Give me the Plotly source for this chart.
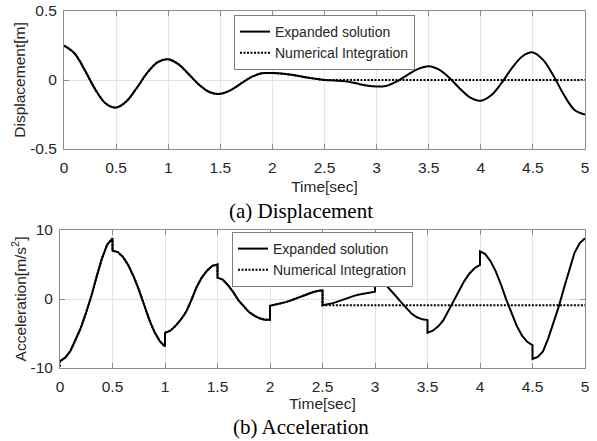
import plotly.graph_objects as go

# ---------------- data ----------------
# displacement, sampled every 0.1 s from 0 to 5 s
time_disp = [round(0.1 * i, 1) for i in range(51)]
disp_expanded = [
    0.25, 0.194, 0.071, -0.068, -0.170, -0.20, -0.154, -0.056, 0.053, 0.129,
    0.15, 0.113, 0.040, -0.037, -0.089, -0.10, -0.073, -0.025, 0.022, 0.049,
    0.05, 0.046, 0.036, 0.022, 0.010, 0.0, -0.004, -0.010, -0.024, -0.040,
    -0.048, -0.041, -0.009, 0.039, 0.081, 0.10, 0.075, 0.015, -0.063, -0.127,
    -0.15, -0.110, -0.021, 0.087, 0.172, 0.20, 0.144, 0.028, -0.111, -0.217,
    -0.25,
]
disp_numerical = disp_expanded[:26] + [0.0] * 25

# acceleration: ten half-second pieces, each sampled every 0.05 s
piece_starts = [0.0, 0.5, 1.0, 1.5, 2.0, 2.5, 3.0, 3.5, 4.0, 4.5]
piece_offsets = [0.0, 0.05, 0.1, 0.15, 0.2, 0.25, 0.3, 0.35, 0.4, 0.45, 0.5]
acc_piece_1 = [-9.0, -8.5, -7.5, -5.9, -4.1, -1.9, 0.5, 3.3, 5.9, 7.9, 8.8]
acc_piece_2 = [7.0, 6.8, 6.1, 4.9, 3.3, 1.4, -0.8, -3.0, -4.8, -6.1, -6.9]
acc_piece_3 = [-4.9, -4.6, -3.9, -3.0, -1.9, -0.2, 1.7, 3.1, 4.1, 4.8, 5.0]
acc_piece_4 = [3.1, 2.8, 2.0, 1.0, -0.2, -1.1, -1.9, -2.4, -2.8, -3.0, -3.0]
acc_piece_5 = [-1.0, -0.85, -0.65, -0.45, -0.2, 0.1, 0.45, 0.7, 0.95, 1.15, 1.25]
acc_piece_6 = [-0.9, -0.8, -0.6, -0.35, -0.05, 0.2, 0.45, 0.65, 0.8, 0.95, 1.05]
acc_piece_7 = [2.95, 2.65, 2.1, 1.3, 0.4, -0.5, -1.4, -2.15, -2.65, -2.95, -3.05]
acc_piece_8 = [-4.9, -4.6, -4.0, -3.1, -1.7, -0.2, 1.3, 2.6, 3.7, 4.5, 4.95]
acc_piece_9 = [6.9, 6.5, 5.5, 4.0, 2.1, -0.1, -2.1, -3.9, -5.3, -6.2, -6.7]
acc_piece_10 = [-8.7, -8.4, -7.6, -5.7, -3.5, -1.1, 1.6, 4.2, 6.7, 8.1, 8.8]
acc_pieces = [acc_piece_1, acc_piece_2, acc_piece_3, acc_piece_4, acc_piece_5,
              acc_piece_6, acc_piece_7, acc_piece_8, acc_piece_9, acc_piece_10]
acc_num_start = -9.8      # numerical solution starts slightly lower
acc_num_tail = -0.9       # numerical solution after 2.5 s
acc_num_tail_times = [2.5, 5.0]

x_ticks = [0, 0.5, 1, 1.5, 2, 2.5, 3, 3.5, 4, 4.5, 5]
x_ticktext = ["0", "0.5", "1", "1.5", "2", "2.5", "3", "3.5", "4", "4.5", "5"]
disp_ticks = [-0.5, 0, 0.5]
disp_ticktext = ["-0.5", "0", "0.5"]
acc_ticks = [-10, 0, 10]
acc_ticktext = ["-10", "0", "10"]

# ---------------- build series ----------------
time_acc, acc_expanded = [], []
for start, piece in zip(piece_starts, acc_pieces):
    for off, v in zip(piece_offsets, piece):
        time_acc.append(round(start + off, 3))
        acc_expanded.append(v)

n_first_five = 5 * len(piece_offsets)
time_acc_num = [0.0] + time_acc[:n_first_five] + acc_num_tail_times
acc_numerical = [acc_num_start] + acc_expanded[:n_first_five] + [acc_num_tail] * 2

# ---------------- figure ----------------
W, H = 597, 441
FONT = "Liberation Sans, Arial, sans-serif"
SERIF = "Liberation Serif, Times New Roman, serif"
TXT = "#262626"
AX = "#8c8c8c"
GRID = "#e4e4e4"

fig = go.Figure()
solid = dict(color="black", width=2)
dotted = dict(color="black", width=2, dash="2px,1.5px")

fig.add_trace(go.Scatter(x=time_disp, y=disp_expanded, mode="lines",
                         line=dict(solid, shape="spline"), name="Expanded solution",
                         xaxis="x", yaxis="y", legend="legend"))
fig.add_trace(go.Scatter(x=time_disp, y=disp_numerical, mode="lines",
                         line=dict(dotted, shape="spline"), name="Numerical Integration",
                         xaxis="x", yaxis="y", legend="legend"))
fig.add_trace(go.Scatter(x=time_acc, y=acc_expanded, mode="lines",
                         line=solid, name="Expanded solution",
                         xaxis="x2", yaxis="y2", legend="legend2"))
fig.add_trace(go.Scatter(x=time_acc_num, y=acc_numerical, mode="lines",
                         line=dotted, name="Numerical Integration",
                         xaxis="x2", yaxis="y2", legend="legend2"))

def px_x(p):
    return p / W

def px_y(p):
    return 1 - p / H

common_axis = dict(
    automargin=False,
    showline=True, linecolor=AX, linewidth=1, mirror="ticks",
    ticks="inside", ticklen=5, tickcolor=AX,
    showgrid=True, gridcolor=GRID, gridwidth=1, zeroline=False,
    tickfont=dict(family=FONT, size=15.5, color=TXT),
)
title_font = dict(family=FONT, size=15.5, color=TXT)

fig.update_layout(
    width=W, height=H,
    margin=dict(l=0, r=0, t=0, b=0, autoexpand=False),
    paper_bgcolor="white", plot_bgcolor="white",
    showlegend=True,
    xaxis=dict(common_axis, domain=[px_x(64), px_x(585)], anchor="y", range=[0, 5],
               tickmode="array", tickvals=x_ticks, ticktext=x_ticktext,
               ticklabelstandoff=4,
               title=dict(text="Time[sec]", standoff=6, font=title_font)),
    yaxis=dict(common_axis, domain=[px_y(149), px_y(11)], anchor="x", range=[-0.5, 0.5],
               tickmode="array", tickvals=disp_ticks, ticktext=disp_ticktext,
               ticklabelstandoff=3,
               title=dict(text="Displacement[m]", standoff=0, font=title_font)),
    xaxis2=dict(common_axis, domain=[px_x(60), px_x(585)], anchor="y2", range=[0, 5],
                tickmode="array", tickvals=x_ticks, ticktext=x_ticktext,
                ticklabelstandoff=4,
                title=dict(text="Time[sec]", standoff=4, font=title_font)),
    yaxis2=dict(common_axis, domain=[px_y(368), px_y(230)], anchor="x2", range=[-10, 10],
                tickmode="array", tickvals=acc_ticks, ticktext=acc_ticktext,
                ticklabelstandoff=3,
                title=dict(text="Acceleration[m/s<sup>2</sup>]", standoff=0, font=title_font)),
    legend=dict(x=px_x(234), y=px_y(15), xanchor="left", yanchor="top",
                bgcolor="white", bordercolor="#7f7f7f", borderwidth=1,
                font=dict(family=FONT, size=14, color=TXT), tracegroupgap=0),
    legend2=dict(x=px_x(232), y=px_y(232), xanchor="left", yanchor="top",
                 bgcolor="white", bordercolor="#7f7f7f", borderwidth=1,
                 font=dict(family=FONT, size=14, color=TXT), tracegroupgap=0),
    annotations=[
        dict(text="(a) Displacement", x=px_x(301), y=px_y(210.5), xref="paper", yref="paper",
             showarrow=False, xanchor="center", yanchor="middle",
             font=dict(family=SERIF, size=21, color="black")),
        dict(text="(b) Acceleration", x=px_x(301), y=px_y(426.5), xref="paper", yref="paper",
             showarrow=False, xanchor="center", yanchor="middle",
             font=dict(family=SERIF, size=21, color="black")),
    ],
)

fig.write_html(
    "out.html",
    config={"displayModeBar": False},
    post_script="document.body.style.margin='0';document.body.style.overflow='hidden';",
)
